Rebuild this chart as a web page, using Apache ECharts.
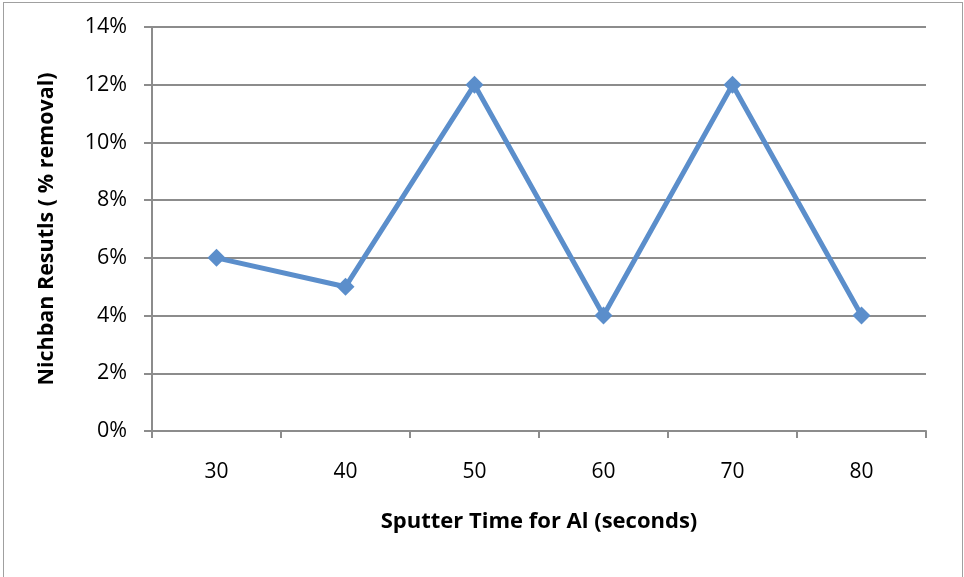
<!DOCTYPE html>
<html><head><meta charset="utf-8">
<script src="https://cdn.jsdelivr.net/npm/echarts@6/dist/echarts.min.js"></script>
<style>html,body{margin:0;padding:0;background:#fff}#c{width:964px;height:577px}
#frame{position:absolute;left:3px;top:2px;width:958px;height:590px;border:1px solid #a0a0a0;pointer-events:none}</style>
</head><body><div id="c"></div><div id="frame"></div>
<script>
const categories = ['30','40','50','60','70','80'];
const removal = [0.06, 0.05, 0.12, 0.04, 0.12, 0.04];
const chart = echarts.init(document.getElementById('c'));
const font = 'Open Sans, Liberation Sans, sans-serif';
chart.setOption({
  animation: false,
  grid: {left: 152, right: 38, top: 27, bottom: 146},
  xAxis: {
    type: 'category', data: categories, boundaryGap: true,
    name: 'Sputter Time for Al (seconds)', nameLocation: 'middle', nameGap: 80,
    nameTextStyle: {fontFamily: font, fontWeight: 'bold', fontSize: 22, color: '#000'},
    axisLine: {lineStyle: {color: '#8c8c8c', width: 2}},
    axisTick: {show: true, length: 7, alignWithLabel: false, lineStyle: {color: '#8c8c8c', width: 2}},
    axisLabel: {fontFamily: font, fontSize: 21, color: '#000', margin: 31}
  },
  yAxis: {
    type: 'value', min: 0, max: 0.14, interval: 0.02,
    name: 'Nichban Resutls ( % removal)', nameLocation: 'middle', nameGap: 94,
    nameTextStyle: {fontFamily: font, fontWeight: 'bold', fontSize: 21.5, color: '#000'},
    axisLine: {show: true, lineStyle: {color: '#8c8c8c', width: 2}},
    axisTick: {show: true, length: 8, lineStyle: {color: '#8c8c8c', width: 2}},
    splitLine: {lineStyle: {color: '#8c8c8c', width: 2}},
    axisLabel: {fontFamily: font, fontSize: 21.5, color: '#000', margin: 25,
      formatter: v => Math.round(v*100) + '%'}
  },
  series: [{
    type: 'line', data: removal,
    symbol: 'diamond', symbolSize: 18,
    lineStyle: {color: '#5b8ecb', width: 5},
    itemStyle: {color: '#5b8ecb'}
  }]
});
</script></body></html>
